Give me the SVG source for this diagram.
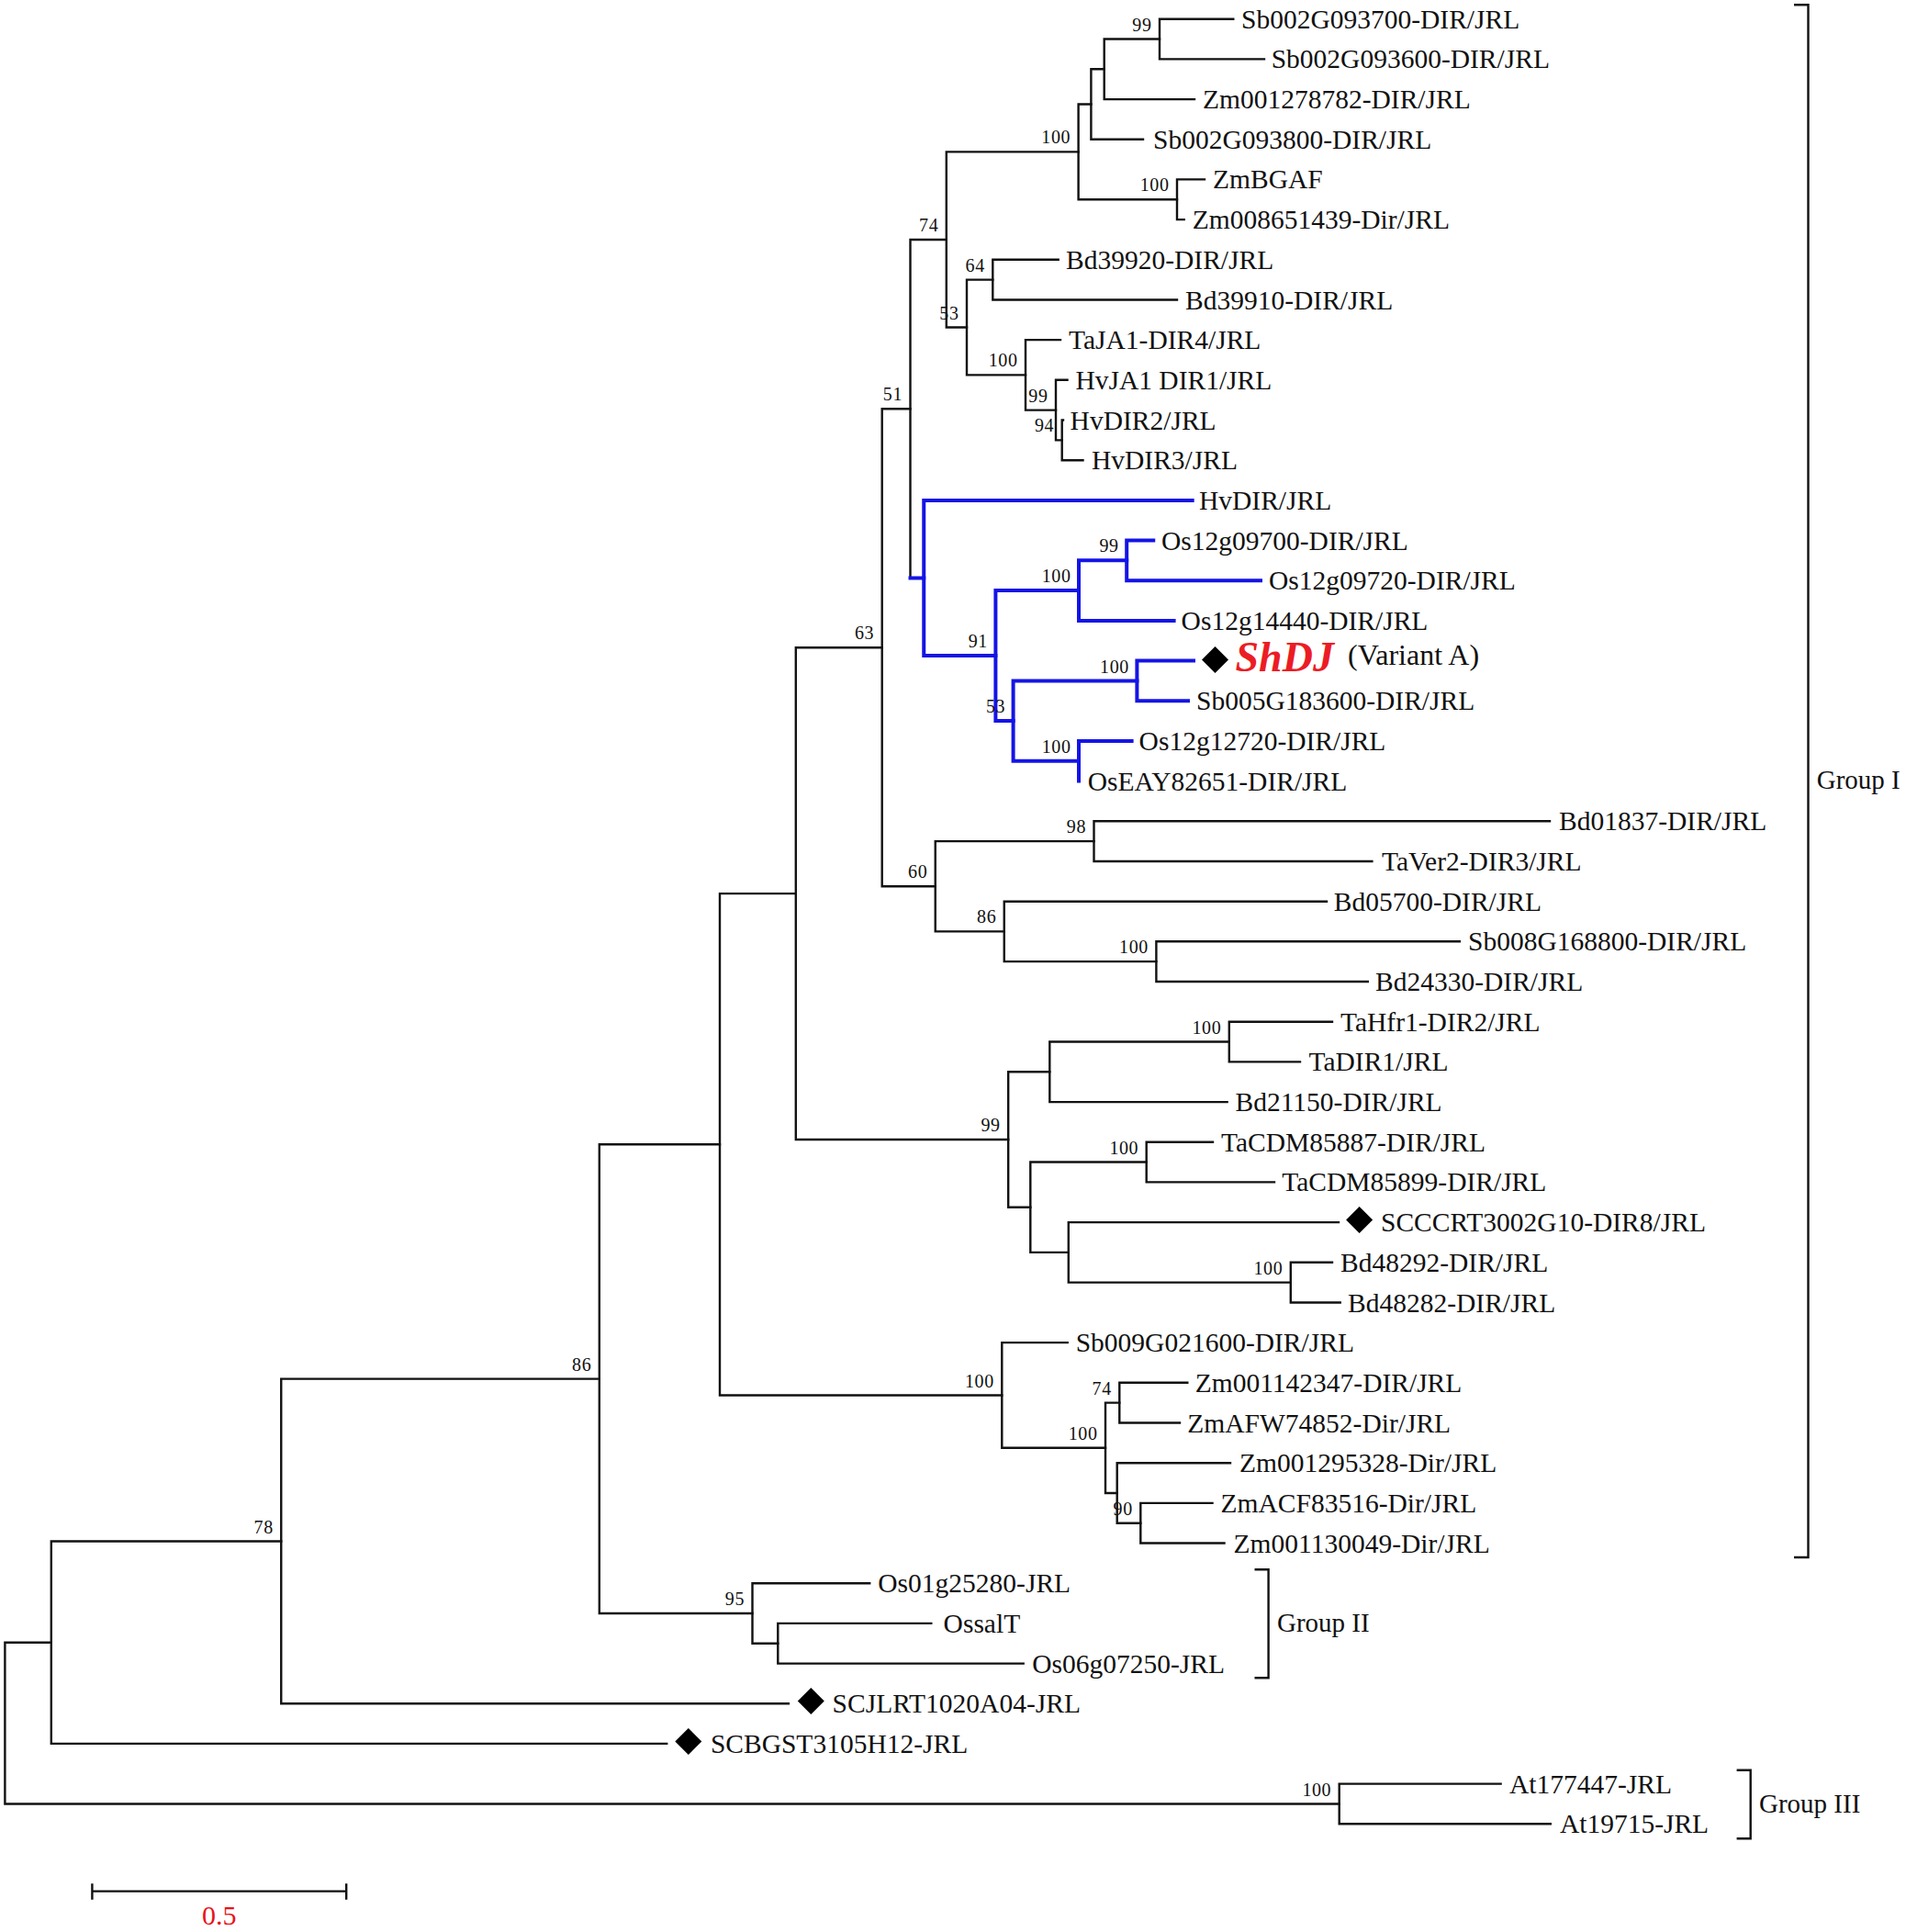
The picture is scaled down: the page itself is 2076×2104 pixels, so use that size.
<svg xmlns="http://www.w3.org/2000/svg" width="2076" height="2104" viewBox="0 0 2076 2104">
<style>
text{font-family:"Liberation Serif","Times New Roman",serif;fill:#111}
.lf{font-size:29.5px}
.bs{font-size:20px;text-anchor:end;letter-spacing:0.6px}
.grp{font-size:29px}
.br{fill:none;stroke:#111;stroke-width:2.4;stroke-linecap:square}
.bl{fill:none;stroke:#1414e6;stroke-width:4;stroke-linecap:square}
.bk{fill:none;stroke:#111;stroke-width:2.4}
.shdj{font-size:46px;font-weight:bold;font-style:italic;fill:#ec1c24}
.scale{font-size:30px;fill:#e8141b;text-anchor:middle}
</style>
<defs>
<path id="dia" d="M0 -14.5L14.5 0L0 14.5L-14.5 0Z" fill="#000"/>
</defs>
<rect width="2076" height="2104" fill="#fff"/>
<g id="connectors">
<path class="br" d="M1263 20.7V64.4M1263 20.7H1343.3M1263 64.4H1377"/>
<path class="br" d="M1202.7 42.55V108.1M1202.7 42.55H1263M1202.7 108.1H1301"/>
<path class="br" d="M1188.4 75.3V151.7M1188.4 75.3H1202.7M1188.4 151.7H1245"/>
<path class="br" d="M1282 195.4V239.1M1282 195.4H1312M1282 239.1H1289.7"/>
<path class="br" d="M1174.6 113.5V217.25M1174.6 113.5H1188.4M1174.6 217.25H1282"/>
<path class="br" d="M1081.3 282.8V326.5M1081.3 282.8H1152.7M1081.3 326.5H1282"/>
<path class="br" d="M1156.7 457.5V501.2M1156.7 457.5H1158M1156.7 501.2H1179.5"/>
<path class="br" d="M1150 413.8V479.35M1150 413.8H1162.5M1150 479.35H1156.7"/>
<path class="br" d="M1117 370.1V446.6M1117 370.1H1155M1117 446.6H1150"/>
<path class="br" d="M1053 304.65V408.35M1053 304.65H1081.3M1053 408.35H1117"/>
<path class="br" d="M1030.8 165.4V356.5M1030.8 165.4H1174.6M1030.8 356.5H1053"/>
<path class="br" d="M991.5 260.95V629.5M991.5 260.95H1030.8"/>
<path class="bl" d="M991.5 629.5H1006.25"/>
<path class="bl" d="M1006.25 544.9V714.1M1006.25 544.9H1298.7M1006.25 714.1H1084.4"/>
<path class="bl" d="M1084.4 643.1V785.1M1084.4 643.1H1175M1084.4 785.1H1103.6"/>
<path class="bl" d="M1175 610.35V675.9M1175 610.35H1227.2M1175 675.9H1278.6"/>
<path class="bl" d="M1227.2 588.5V632.2M1227.2 588.5H1256.25M1227.2 632.2H1373"/>
<path class="bl" d="M1103.6 741.45V828.75M1103.6 741.45H1238.4M1103.6 828.75H1175"/>
<path class="bl" d="M1238.4 719.6V763.3M1238.4 719.6H1300M1238.4 763.3H1294"/>
<path class="bl" d="M1175 806.9V850.6M1175 806.9H1232.6"/>
<path class="br" d="M960.7 445.2V965.3M960.7 445.2H991.5M960.7 965.3H1018.75"/>
<path class="br" d="M1018.75 916.15V1014.4M1018.75 916.15H1191.5M1018.75 1014.4H1093.75"/>
<path class="br" d="M1191.5 894.3V938M1191.5 894.3H1688M1191.5 938H1494.4"/>
<path class="br" d="M1093.75 981.7V1047.15M1093.75 981.7H1445M1093.75 1047.15H1259.4"/>
<path class="br" d="M1259.4 1025.3V1069M1259.4 1025.3H1589.8M1259.4 1069H1489.8"/>
<path class="br" d="M866.8 705.25V1241M866.8 705.25H960.7M866.8 1241H1098.2"/>
<path class="br" d="M1098.2 1167.3V1314.7M1098.2 1167.3H1143.3M1098.2 1314.7H1122.3"/>
<path class="br" d="M1143.3 1134.55V1200.1M1143.3 1134.55H1338.8M1143.3 1200.1H1336.6"/>
<path class="br" d="M1338.8 1112.7V1156.4M1338.8 1112.7H1451M1338.8 1156.4H1416"/>
<path class="br" d="M1122.3 1265.55V1363.9M1122.3 1265.55H1248.7M1122.3 1363.9H1163.8"/>
<path class="br" d="M1248.7 1243.7V1287.4M1248.7 1243.7H1321M1248.7 1287.4H1388"/>
<path class="br" d="M1163.8 1331.1V1396.65M1163.8 1331.1H1458M1163.8 1396.65H1405.8"/>
<path class="br" d="M1405.8 1374.8V1418.5M1405.8 1374.8H1451M1405.8 1418.5H1459.7"/>
<path class="br" d="M784 973.1V1519.45M784 973.1H866.8M784 1519.45H1091.3"/>
<path class="br" d="M1091.3 1462.1V1576.8M1091.3 1462.1H1162.7M1091.3 1576.8H1204"/>
<path class="br" d="M1204 1527.65V1625.95M1204 1527.65H1219.3M1204 1625.95H1216.7"/>
<path class="br" d="M1219.3 1505.8V1549.5M1219.3 1505.8H1293.3M1219.3 1549.5H1285"/>
<path class="br" d="M1216.7 1593.2V1658.7M1216.7 1593.2H1340M1216.7 1658.7H1242.3"/>
<path class="br" d="M1242.3 1636.9V1680.5M1242.3 1636.9H1320.5M1242.3 1680.5H1333.5"/>
<path class="br" d="M652.8 1246.3V1757M652.8 1246.3H784M652.8 1757H819.5"/>
<path class="br" d="M819.5 1724.2V1789.75M819.5 1724.2H947.2M819.5 1789.75H847.3"/>
<path class="br" d="M847.3 1767.9V1811.6M847.3 1767.9H1014.3M847.3 1811.6H1114.7"/>
<path class="br" d="M306.25 1501.65V1855.3M306.25 1501.65H652.8M306.25 1855.3H858.9"/>
<path class="br" d="M55.8 1678.5V1898.9M55.8 1678.5H306.25M55.8 1898.9H726.2"/>
<path class="br" d="M5.4 1788.7V1964.45M5.4 1788.7H55.8M5.4 1964.45H1458.7"/>
<path class="br" d="M1458.7 1942.6V1986.3M1458.7 1942.6H1634.6M1458.7 1986.3H1688.8"/>
</g>
<g id="bootstrap">
<text class="bs" x="1254.5" y="33.5">99</text>
<text class="bs" x="1166.1" y="156.4">100</text>
<text class="bs" x="1273.5" y="208.2">100</text>
<text class="bs" x="1022.3" y="252">74</text>
<text class="bs" x="1072.8" y="295.7">64</text>
<text class="bs" x="1044.5" y="347.5">53</text>
<text class="bs" x="1108.5" y="399.4">100</text>
<text class="bs" x="1141.5" y="437.6">99</text>
<text class="bs" x="1148.2" y="470.4">94</text>
<text class="bs" x="983" y="436.2">51</text>
<text class="bs" x="1218.7" y="601.4">99</text>
<text class="bs" x="1166.5" y="634.1">100</text>
<text class="bs" x="1075.9" y="705.1">91</text>
<text class="bs" x="1229.9" y="732.5">100</text>
<text class="bs" x="1095.1" y="776.1">53</text>
<text class="bs" x="1166.5" y="819.8">100</text>
<text class="bs" x="952.2" y="696.3">63</text>
<text class="bs" x="1183" y="907.2">98</text>
<text class="bs" x="1010.3" y="956.3">60</text>
<text class="bs" x="1085.3" y="1005.4">86</text>
<text class="bs" x="1250.9" y="1038.2">100</text>
<text class="bs" x="1330.3" y="1125.6">100</text>
<text class="bs" x="1089.7" y="1232">99</text>
<text class="bs" x="1240.2" y="1256.6">100</text>
<text class="bs" x="1397.3" y="1387.7">100</text>
<text class="bs" x="1082.8" y="1510.5">100</text>
<text class="bs" x="1210.8" y="1518.7">74</text>
<text class="bs" x="1195.5" y="1567.8">100</text>
<text class="bs" x="1233.8" y="1649.7">90</text>
<text class="bs" x="811" y="1748">95</text>
<text class="bs" x="644.3" y="1492.7">86</text>
<text class="bs" x="297.8" y="1669.5">78</text>
<text class="bs" x="1450.2" y="1955.5">100</text>
</g>
<g id="leaves">
<g id="leaf-0"><text class="lf" x="1352" y="30.7">Sb002G093700-DIR/JRL</text></g>
<g id="leaf-1"><text class="lf" x="1384.7" y="74.4">Sb002G093600-DIR/JRL</text></g>
<g id="leaf-2"><text class="lf" x="1310" y="118.1">Zm001278782-DIR/JRL</text></g>
<g id="leaf-3"><text class="lf" x="1256" y="161.7">Sb002G093800-DIR/JRL</text></g>
<g id="leaf-4"><text class="lf" x="1321" y="205.4">ZmBGAF</text></g>
<g id="leaf-5"><text class="lf" x="1298.7" y="249.1">Zm008651439-Dir/JRL</text></g>
<g id="leaf-6"><text class="lf" x="1161" y="292.8">Bd39920-DIR/JRL</text></g>
<g id="leaf-7"><text class="lf" x="1291" y="336.5">Bd39910-DIR/JRL</text></g>
<g id="leaf-8"><text class="lf" x="1164" y="380.1">TaJA1-DIR4/JRL</text></g>
<g id="leaf-9"><text class="lf" x="1171.4" y="423.8">HvJA1 DIR1/JRL</text></g>
<g id="leaf-10"><text class="lf" x="1165.6" y="467.5">HvDIR2/JRL</text></g>
<g id="leaf-11"><text class="lf" x="1189" y="511.2">HvDIR3/JRL</text></g>
<g id="leaf-12"><text class="lf" x="1306" y="554.9">HvDIR/JRL</text></g>
<g id="leaf-13"><text class="lf" x="1265" y="598.5">Os12g09700-DIR/JRL</text></g>
<g id="leaf-14"><text class="lf" x="1382" y="642.2">Os12g09720-DIR/JRL</text></g>
<g id="leaf-15"><text class="lf" x="1286.6" y="685.9">Os12g14440-DIR/JRL</text></g>
<g id="leaf-16"><use href="#dia" x="1323.5" y="718.5"/><text class="shdj" x="1345.5" y="731">ShDJ</text><text class="lf" x="1468" y="723.5" style="font-size:32px">(Variant A)</text></g>
<g id="leaf-17"><text class="lf" x="1303" y="773.3">Sb005G183600-DIR/JRL</text></g>
<g id="leaf-18"><text class="lf" x="1240.6" y="816.9">Os12g12720-DIR/JRL</text></g>
<g id="leaf-19"><text class="lf" x="1184.8" y="860.6">OsEAY82651-DIR/JRL</text></g>
<g id="leaf-20"><text class="lf" x="1698" y="904.3">Bd01837-DIR/JRL</text></g>
<g id="leaf-21"><text class="lf" x="1505" y="948">TaVer2-DIR3/JRL</text></g>
<g id="leaf-22"><text class="lf" x="1452.8" y="991.7">Bd05700-DIR/JRL</text></g>
<g id="leaf-23"><text class="lf" x="1599" y="1035.3">Sb008G168800-DIR/JRL</text></g>
<g id="leaf-24"><text class="lf" x="1498" y="1079">Bd24330-DIR/JRL</text></g>
<g id="leaf-25"><text class="lf" x="1460" y="1122.7">TaHfr1-DIR2/JRL</text></g>
<g id="leaf-26"><text class="lf" x="1425.5" y="1166.4">TaDIR1/JRL</text></g>
<g id="leaf-27"><text class="lf" x="1345.5" y="1210.1">Bd21150-DIR/JRL</text></g>
<g id="leaf-28"><text class="lf" x="1330" y="1253.7">TaCDM85887-DIR/JRL</text></g>
<g id="leaf-29"><text class="lf" x="1396.3" y="1297.4">TaCDM85899-DIR/JRL</text></g>
<g id="leaf-30"><use href="#dia" x="1480.6" y="1328.5"/><text class="lf" x="1504" y="1341.1">SCCCRT3002G10-DIR8/JRL</text></g>
<g id="leaf-31"><text class="lf" x="1460" y="1384.8">Bd48292-DIR/JRL</text></g>
<g id="leaf-32"><text class="lf" x="1468" y="1428.5">Bd48282-DIR/JRL</text></g>
<g id="leaf-33"><text class="lf" x="1171.7" y="1472.1">Sb009G021600-DIR/JRL</text></g>
<g id="leaf-34"><text class="lf" x="1301.7" y="1515.8">Zm001142347-DIR/JRL</text></g>
<g id="leaf-35"><text class="lf" x="1293.3" y="1559.5">ZmAFW74852-Dir/JRL</text></g>
<g id="leaf-36"><text class="lf" x="1350" y="1603.2">Zm001295328-Dir/JRL</text></g>
<g id="leaf-37"><text class="lf" x="1329.6" y="1646.9">ZmACF83516-Dir/JRL</text></g>
<g id="leaf-38"><text class="lf" x="1343.6" y="1690.5">Zm001130049-Dir/JRL</text></g>
<g id="leaf-39"><text class="lf" x="956.3" y="1734.2">Os01g25280-JRL</text></g>
<g id="leaf-40"><text class="lf" x="1027.6" y="1777.9">OssalT</text></g>
<g id="leaf-41"><text class="lf" x="1124.2" y="1821.6">Os06g07250-JRL</text></g>
<g id="leaf-42"><use href="#dia" x="883.3" y="1852.5"/><text class="lf" x="906.6" y="1865.3">SCJLRT1020A04-JRL</text></g>
<g id="leaf-43"><use href="#dia" x="749.8" y="1896.5"/><text class="lf" x="773.9" y="1908.9">SCBGST3105H12-JRL</text></g>
<g id="leaf-44"><text class="lf" x="1644" y="1952.6">At177447-JRL</text></g>
<g id="leaf-45"><text class="lf" x="1698.9" y="1996.3">At19715-JRL</text></g>
</g>
<g id="groups">
<g id="group-1"><path class="bk" d="M1954 5.2H1969.5V1696H1954"/><text class="grp" x="1978.7" y="859">Group I</text></g>
<g id="group-2"><path class="bk" d="M1366.5 1709.3H1381.6V1827.3H1366.5"/><text class="grp" x="1391" y="1777">Group II</text></g>
<g id="group-3"><path class="bk" d="M1891.6 1927.7H1906.7V2002.3H1891.6"/><text class="grp" x="1916" y="1974">Group III</text></g>
</g>
<g id="scale-bar">
<path class="bk" d="M100.4 2059.6H377.2M100.4 2051.3V2068.7M377.2 2051.3V2068.7"/>
<text class="scale" x="238.8" y="2096">0.5</text>
</g>
</svg>
